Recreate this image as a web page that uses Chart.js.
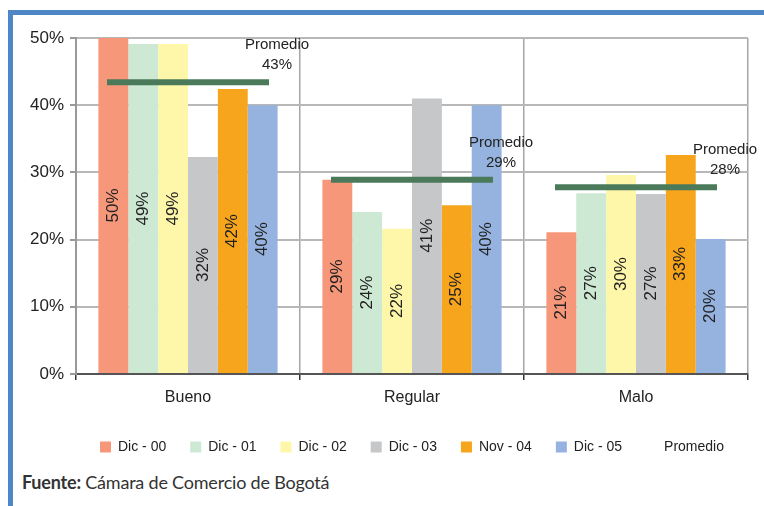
<!DOCTYPE html>
<html>
<head>
<meta charset="utf-8">
<script src="https://cdn.jsdelivr.net/npm/chart.js@4/dist/chart.umd.min.js"></script>
<style>
  body { margin: 0; background: #fff; }
  #wrap { position: relative; width: 764px; height: 506px; overflow: hidden; }
  #frame { position: absolute; left: 8px; top: 10px; right: -10px; bottom: -10px;
           border-top: 5px solid #4f86c6; border-left: 5px solid #4f86c6; }
  #box { position: absolute; left: 0; top: 0; width: 764px; height: 464px; }
  #fuente { position: absolute; left: 22px; top: 471px; font-family: Lato, sans-serif;
            font-size: 18px; color: #333; letter-spacing: -0.2px; }
</style>
</head>
<body>
<div id="wrap">
  <div id="frame"></div>
  <div id="box"><canvas id="grafico"></canvas></div>
  <div id="fuente"><b>Fuente:</b> Cámara de Comercio de Bogotá</div>
</div>
<script>
const categorias = ["Bueno", "Regular", "Malo"];
const series = ["Dic - 00", "Dic - 01", "Dic - 02", "Dic - 03", "Nov - 04", "Dic - 05"];
const dic00 = [50, 28.9, 21.1];
const dic01 = [49.1, 24.1, 26.9];
const dic02 = [49.1, 21.6, 29.6];
const dic03 = [32.3, 41.0, 26.8];
const nov04 = [42.4, 25.1, 32.6];
const dic05 = [40.0, 40.0, 20.1];
const etiquetas = [
  ["50%", "29%", "21%"],
  ["49%", "24%", "27%"],
  ["49%", "22%", "30%"],
  ["32%", "41%", "27%"],
  ["42%", "25%", "33%"],
  ["40%", "40%", "20%"]
];
const promedio = [43.4, 28.9, 27.8];
const promedioTexto = ["43%", "29%", "28%"];
const colores = ["#f7977a", "#cde8d3", "#fef7aa", "#c6c7c9", "#f7a51c", "#95b3de"];

const valores = [dic00, dic01, dic02, dic03, nov04, dic05];
const FONT = "'Liberation Sans', Arial, sans-serif";

// etiquetas verticales dentro de las barras y textos del promedio
const etiquetasPlugin = {
  id: "etiquetas",
  afterDatasetsDraw(chart) {
    const ctx = chart.ctx;
    ctx.save();
    ctx.fillStyle = "#222";
    ctx.font = "17px " + FONT;
    ctx.textAlign = "center";
    ctx.textBaseline = "middle";
    series.forEach((s, i) => {
      chart.getDatasetMeta(i).data.forEach((bar, j) => {
        ctx.save();
        ctx.translate(bar.x, (bar.y + bar.base) / 2);
        ctx.rotate(-Math.PI / 2);
        ctx.fillText(etiquetas[i][j], 0, 0);
        ctx.restore();
      });
    });
    ctx.font = "15px " + FONT;
    const meta = chart.getDatasetMeta(series.length);
    const r = chart.data.datasets[series.length].pointRadius;
    meta.data.forEach((p, j) => {
      const x = p.x + r + 8;
      ctx.fillText("Promedio", x, p.y - 37);
      ctx.fillText(promedioTexto[j], x, p.y - 17);
    });
    ctx.restore();
  }
};

const datasets = series.map((s, i) => ({
  type: "bar",
  label: s,
  data: valores[i],
  backgroundColor: colores[i],
  borderWidth: 0,
  categoryPercentage: 0.8,
  barPercentage: 1.0,
  order: 2
}));
datasets.push({
  type: "line",
  label: "Promedio",
  data: promedio,
  showLine: false,
  pointStyle: "line",
  pointRadius: 81,
  pointBorderWidth: 6,
  borderColor: "#4a7a5a",
  backgroundColor: "#4a7a5a",
  order: 1
});

new Chart(document.getElementById("grafico"), {
  type: "bar",
  data: { labels: categorias, datasets: datasets },
  options: {
    responsive: true,
    maintainAspectRatio: false,
    animation: false,
    events: [],
    layout: { autoPadding: false, padding: { left: 10, top: 38, right: 16, bottom: 0 } },
    scales: {
      x: {
        grid: { offset: true, color: "#a6a6a6", lineWidth: 1.5, tickLength: 6, tickColor: "#333" },
        border: { color: "#555", width: 2 },
        ticks: { color: "#222", font: { family: FONT, size: 16 }, padding: 8 },
        afterFit: s => { s.height = 42; }
      },
      y: {
        min: 0, max: 50,
        grid: { color: "#b8b8b8", lineWidth: 2, tickLength: 6, tickColor: "#999" },
        border: { color: "#999", width: 2 },
        ticks: { stepSize: 10, color: "#222", font: { family: FONT, size: 17 }, padding: 6,
                 callback: v => v + "%" },
        afterFit: s => { s.width = 66; }
      }
    },
    plugins: {
      tooltip: { enabled: false },
      legend: {
        position: "bottom",
        fullSize: false,
        labels: {
          color: "#222",
          font: { family: FONT, size: 14 },
          boxWidth: 11,
          boxHeight: 11,
          padding: 24,
          generateLabels(chart) {
            const items = Chart.defaults.plugins.legend.labels.generateLabels(chart);
            items.sort((a, b) => a.datasetIndex - b.datasetIndex);
            items.forEach(it => {
              it.lineWidth = 0;
              if (it.text === "Promedio") {
                it.fillStyle = "rgba(0,0,0,0)";
                it.strokeStyle = "rgba(0,0,0,0)";
              }
            });
            return items;
          }
        }
      }
    }
  },
  plugins: [etiquetasPlugin]
});
</script>
</body>
</html>
